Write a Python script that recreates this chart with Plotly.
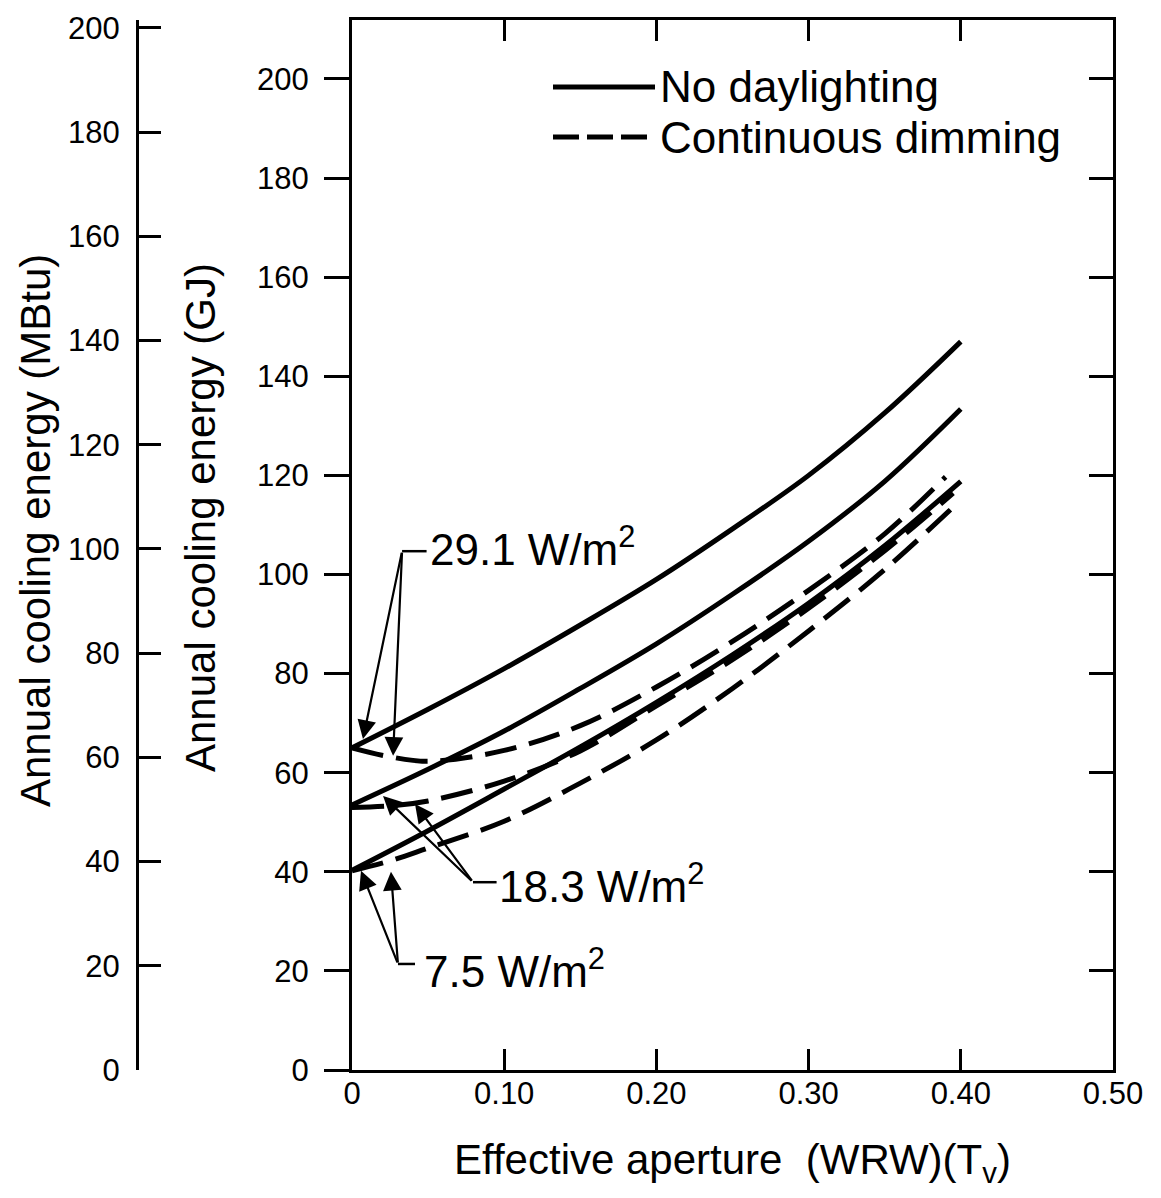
import plotly.graph_objects as go

# ---------------- data ----------------
x_nd = [0, 0.05, 0.10, 0.15, 0.20, 0.25, 0.30, 0.35, 0.40]
nd_291 = [65.0, 72.8, 81.0, 89.8, 99.0, 109.2, 120.0, 132.6, 147.0]
nd_183 = [53.5, 60.7, 68.4, 77.0, 86.0, 96.0, 106.7, 118.8, 133.4]
nd_75 = [40.3, 48.3, 56.7, 65.2, 74.2, 83.8, 94.2, 105.8, 118.8]

x_cd_291 = [0, 0.025, 0.05, 0.10, 0.15, 0.20, 0.25, 0.30, 0.35, 0.39]
cd_291 = [65.0, 63.2, 62.3, 64.5, 69.5, 77.3, 86.5, 96.8, 108.2, 119.7]
x_cd = [0, 0.025, 0.05, 0.10, 0.15, 0.20, 0.25, 0.30, 0.35, 0.395]
cd_183 = [53.0, 53.3, 54.3, 58.3, 64.4, 73.5, 82.8, 93.2, 104.8, 116.4]
cd_75 = [40.2, 42.2, 44.8, 50.2, 57.9, 66.6, 77.0, 88.6, 101.0, 113.6]

x_ticks = [0, 0.1, 0.2, 0.3, 0.4, 0.5]
x_ticktext = ["0", "0.10", "0.20", "0.30", "0.40", "0.50"]
gj_ticks = [0, 20, 40, 60, 80, 100, 120, 140, 160, 180, 200]
mbtu_ticks = [0, 20, 40, 60, 80, 100, 120, 140, 160, 180, 200]

GJ_MAX = 211.9
MBTU_MAX = 201.5

FONT = "Liberation Sans, Arial, Helvetica, sans-serif"
BLACK = "black"

fig = go.Figure()

series = [
    (x_nd, nd_291, "solid", "No daylighting 29.1 W/m²"),
    (x_nd, nd_183, "solid", "No daylighting 18.3 W/m²"),
    (x_nd, nd_75, "solid", "No daylighting 7.5 W/m²"),
    (x_cd_291, cd_291, "32px,13px", "Continuous dimming 29.1 W/m²"),
    (x_cd, cd_183, "32px,13px", "Continuous dimming 18.3 W/m²"),
    (x_cd, cd_75, "32px,13px", "Continuous dimming 7.5 W/m²"),
]
for xs, ys, dash, name in series:
    fig.add_trace(go.Scatter(
        x=xs, y=ys, mode="lines", name=name, showlegend=False,
        line=dict(color=BLACK, width=5, shape="spline", smoothing=1.0, dash=dash),
        hoverinfo="x+y+name",
    ))

# empty traces so the extra axes are always built
fig.add_trace(go.Scatter(x=[], y=[], yaxis="y2", showlegend=False, hoverinfo="skip"))
fig.add_trace(go.Scatter(x=[], y=[], yaxis="y3", showlegend=False, hoverinfo="skip"))

# the page body has an 8px margin, so the figure is 8px smaller than the window
L, R, T, B = 129, 48, 12, 128
W, H = 1153, 1190
PW = W - L - R
PH = H - T - B
OFF = 8


def px(xpix):
    """reference-image x pixel -> paper x"""
    return (xpix - OFF - L) / PW


def py(ypix):
    """reference-image y pixel -> paper y"""
    return (T + PH - (ypix - OFF)) / PH


axis_common = dict(showgrid=False, zeroline=False, color=BLACK, linecolor=BLACK,
                   tickcolor=BLACK, tickfont=dict(family=FONT, size=31, color=BLACK))

fig.update_layout(
    width=W, height=H,
    margin=dict(l=L, r=R, t=T, b=B, autoexpand=False),
    paper_bgcolor="white", plot_bgcolor="white",
    font=dict(family=FONT, color=BLACK),
    xaxis=dict(
        domain=[px(352), 1], range=[0, 0.5], anchor="y",
        tickmode="array", tickvals=x_ticks, ticktext=x_ticktext,
        ticks="inside", ticklen=21, tickwidth=3, showline=True, linewidth=3,
        mirror="ticks", ticklabelstandoff=-6, automargin=False,
        title=dict(text="Effective aperture\u00a0\u00a0(WRW)(T<sub>v</sub>)",
                   font=dict(family=FONT, size=42, color=BLACK), standoff=35),
        **axis_common,
    ),
    yaxis=dict(
        range=[0, GJ_MAX], anchor="x", side="left",
        tickmode="array", tickvals=gj_ticks,
        ticks="outside", ticklen=25, tickwidth=3, showline=True, linewidth=3,
        ticklabelstandoff=9, automargin=False,
        **axis_common,
    ),
    yaxis2=dict(
        range=[0, MBTU_MAX], overlaying="y", anchor="free", position=0, side="left",
        tickmode="array", tickvals=mbtu_ticks,
        ticks="inside", ticklen=22, tickwidth=3, showline=True, linewidth=3,
        ticklabelstandoff=10, ticklabeloverflow="allow", automargin=False,
        **axis_common,
    ),
    yaxis3=dict(
        range=[0, GJ_MAX], overlaying="y", anchor="x", side="right",
        tickmode="array", tickvals=gj_ticks[1:], showticklabels=False,
        ticks="inside", ticklen=24, tickwidth=3, showline=True, linewidth=3,
        automargin=False,
        **axis_common,
    ),
)

annotations = []
shapes = []

# y-axis titles
annotations.append(dict(xref="paper", yref="paper", x=px(200), y=py(518),
                        text="Annual cooling energy (GJ)", textangle=-90, showarrow=False,
                        font=dict(family=FONT, size=42, color=BLACK),
                        xanchor="center", yanchor="middle"))
annotations.append(dict(xref="paper", yref="paper", x=px(35), y=py(531),
                        text="Annual cooling energy (MBtu)", textangle=-90, showarrow=False,
                        font=dict(family=FONT, size=42, color=BLACK),
                        xanchor="center", yanchor="middle"))

# key (legend)
shapes.append(dict(type="line", xref="paper", yref="paper",
                   x0=px(553), x1=px(655), y0=py(87), y1=py(87),
                   line=dict(color=BLACK, width=5)))
shapes.append(dict(type="line", xref="paper", yref="paper",
                   x0=px(553), x1=px(655), y0=py(137), y1=py(137),
                   line=dict(color=BLACK, width=5, dash="26px,8px")))
annotations.append(dict(xref="paper", yref="paper", x=px(658), y=py(87),
                        text="No daylighting", showarrow=False,
                        font=dict(family=FONT, size=44, color=BLACK),
                        xanchor="left", yanchor="middle"))
annotations.append(dict(xref="paper", yref="paper", x=px(658), y=py(137),
                        text="Continuous dimming", showarrow=False,
                        font=dict(family=FONT, size=44, color=BLACK),
                        xanchor="left", yanchor="middle"))

# callouts: (label, label x, label y, bar, tail, tips)
callouts = [
    ("29.1 W/m<sup>2</sup>", 0.0500, 105.7, [(0.0329, 104.7), (0.049, 104.7)],
     (0.0329, 104.7), [(0.0072, 66.8), (0.027, 63.4)]),
    ("18.3 W/m<sup>2</sup>", 0.0955, 37.7, [(0.0795, 37.9), (0.095, 37.9)],
     (0.0795, 37.9), [(0.0204, 55.3), (0.0414, 53.7)]),
    ("7.5 W/m<sup>2</sup>", 0.0460, 20.4, [(0.0302, 21.4), (0.0414, 21.4)],
     (0.0302, 21.4), [(0.0059, 40.2), (0.0256, 40.0)]),
]
for text, tx, ty, bar, tail, tips in callouts:
    annotations.append(dict(xref="x", yref="y", x=tx, y=ty, text=text, showarrow=False,
                            font=dict(family=FONT, size=44, color=BLACK),
                            xanchor="left", yanchor="middle"))
    shapes.append(dict(type="line", xref="x", yref="y",
                       x0=bar[0][0], y0=bar[0][1], x1=bar[1][0], y1=bar[1][1],
                       line=dict(color=BLACK, width=2.5)))
    for tipx, tipy in tips:
        annotations.append(dict(xref="x", yref="y", x=tipx, y=tipy,
                                axref="x", ayref="y", ax=tail[0], ay=tail[1],
                                text="", showarrow=True, arrowhead=2, arrowsize=1.7,
                                arrowwidth=2.2, arrowcolor=BLACK, standoff=0))

fig.update_layout(annotations=annotations, shapes=shapes)

fig.write_html("out.html")
